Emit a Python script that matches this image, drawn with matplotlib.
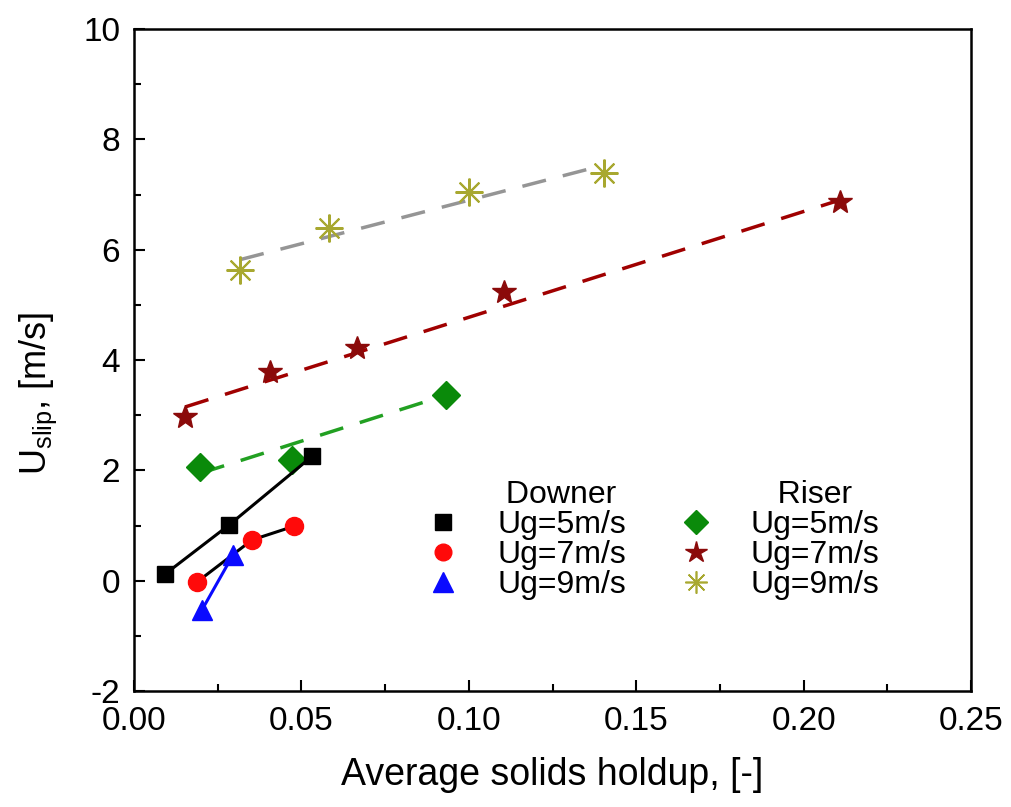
import matplotlib
matplotlib.use("Agg")
import matplotlib.pyplot as plt
from matplotlib.lines import Line2D

plt.rcParams['font.family'] = ['Liberation Sans', 'DejaVu Sans']
plt.rcParams['mathtext.fontset'] = 'custom'
plt.rcParams['mathtext.rm'] = 'Liberation Sans'
plt.rcParams['mathtext.it'] = 'Liberation Sans'
plt.rcParams['axes.unicode_minus'] = False

# Downer (measured points, joined by solid lines)
d5_x = [0.0093, 0.0284, 0.0533]
d5_y = [0.12, 1.01, 2.26]
d7_x = [0.0189, 0.0353, 0.0479]
d7_y = [-0.02, 0.74, 0.99]
d9_x = [0.0203, 0.0296]
d9_y = [-0.53, 0.47]

# Riser (points + dashed trend lines)
r5_x = [0.0197, 0.0472, 0.0933]
r5_y = [2.06, 2.19, 3.37]
r7_x = [0.0153, 0.0407, 0.0665, 0.1105, 0.2108]
r7_y = [2.97, 3.78, 4.22, 5.23, 6.86]
r9_x = [0.0317, 0.0581, 0.1000, 0.1404]
r9_y = [5.63, 6.39, 7.05, 7.39]

# trend line end points
r5_fit_x = [0.020, 0.093]
r5_fit_y = [1.95, 3.36]
r7_fit_x = [0.0153, 0.2108]
r7_fit_y = [3.15, 6.90]
r9_fit_x = [0.0317, 0.1395]
r9_fit_y = [5.82, 7.52]

fig = plt.figure(figsize=(10.12, 8.07), dpi=100)
ax = fig.add_axes([0.1324, 0.1437, 0.8271, 0.8203])

green = '#0a8a0a'
dred = '#8b0a0a'
olive = '#a8a830'

# trend lines
ax.plot(r5_fit_x, r5_fit_y, '--', color='#22a022', lw=2.5, dashes=(7, 5))
ax.plot(r7_fit_x, r7_fit_y, '--', color='#a00000', lw=2.5, dashes=(7, 5))
ax.plot(r9_fit_x, r9_fit_y, '--', color='#959595', lw=2.5, dashes=(7, 5))

ax.plot(r5_x, r5_y, 'D', color=green, ms=14, ls='none')
ax.plot(r7_x, r7_y, '*', color=dred, ms=18, ls='none')
ax.plot(r9_x, r9_y, marker=(8, 2, 0), color=olive, ms=20, mew=1.5, ls='none')

ax.plot(d5_x, d5_y, '-', color='black', lw=2.2)
ax.plot(d5_x, d5_y, 's', color='black', ms=12, ls='none')
ax.plot(d7_x, d7_y, '-', color='black', lw=2.2)
ax.plot(d7_x, d7_y, 'o', color='#ff0a0a', ms=13, ls='none')
ax.plot(d9_x, d9_y, '-', color='#0a0aff', lw=2.2)
ax.plot(d9_x, d9_y, '^', color='#0a0aff', ms=15, ls='none')

ax.set_xlim(0, 0.25)
ax.set_ylim(-2, 10)
ax.set_xticks([0.00, 0.05, 0.10, 0.15, 0.20, 0.25])
ax.set_xticklabels(['0.00', '0.05', '0.10', '0.15', '0.20', '0.25'])
ax.set_xticks([0.025, 0.075, 0.125, 0.175, 0.225], minor=True)
ax.set_yticks([-2, 0, 2, 4, 6, 8, 10])
ax.set_yticks([-1, 1, 3, 5, 7, 9], minor=True)
ax.tick_params(which='both', direction='in', labelsize=24, width=1.5)
ax.tick_params(which='major', length=8)
ax.tick_params(axis='x', which='both', pad=11)
ax.tick_params(axis='y', which='both', pad=10)
ax.tick_params(which='minor', length=5)
for s in ax.spines.values():
    s.set_linewidth(1.8)

ax.set_xlabel('Average solids holdup, [-]', fontsize=27, labelpad=14)
ax.set_ylabel(r'U$_{\mathrm{slip}}$, [m/s]', fontsize=26)
ax.yaxis.set_label_coords(-0.09, 0.45)

# legend with column headers
blank = Line2D([], [], ls='none', marker=None)
handles = [
    blank,
    Line2D([], [], ls='none', marker='s', color='black', ms=11),
    Line2D([], [], ls='none', marker='o', color='#ff0a0a', ms=12),
    Line2D([], [], ls='none', marker='^', color='#0a0aff', ms=14),
    blank,
    Line2D([], [], ls='none', marker='D', color=green, ms=12),
    Line2D([], [], ls='none', marker='*', color=dred, ms=16),
    Line2D([], [], ls='none', marker=(8, 2, 0), color=olive, ms=16, mew=1.2),
]
labels = [' Downer', 'Ug=5m/s', 'Ug=7m/s', 'Ug=9m/s',
          '   Riser', 'Ug=5m/s', 'Ug=7m/s', 'Ug=9m/s']
ax.legend(handles, labels, ncol=2, frameon=False, fontsize=23,
          loc='lower left', bbox_to_anchor=(0.335, 0.118),
          handlelength=1.0, handletextpad=1.2, columnspacing=1.7,
          labelspacing=0.0, borderaxespad=0)

fig.savefig('out.png', dpi=100)
